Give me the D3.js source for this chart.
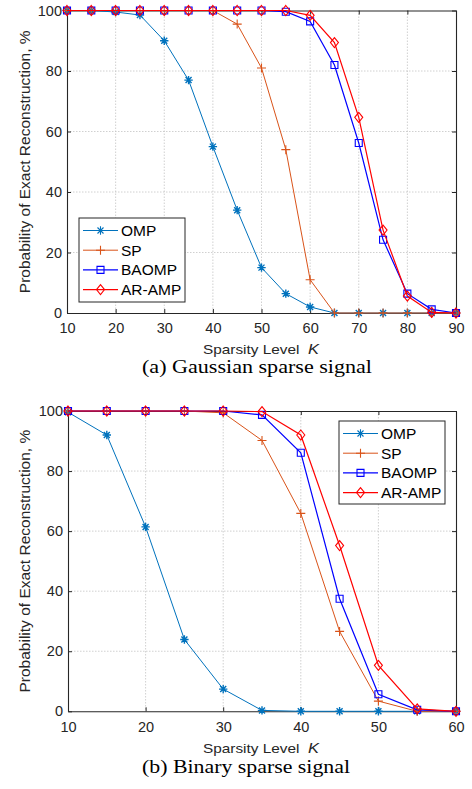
<!DOCTYPE html>
<html>
<head>
<meta charset="utf-8">
<script src="https://cdn.jsdelivr.net/npm/d3@7"></script>
<style>
  body { margin: 0; background: #fff; }
  svg { display: block; }
</style>
</head>
<body>
<div id="chart"></div>
<script>
// sparsity levels
const kGauss = [10, 15, 20, 25, 30, 35, 40, 45, 50, 55, 60, 65, 70, 75, 80, 85, 90];
const kBinary = [10, 15, 20, 25, 30, 35, 40, 45, 50, 55, 60];

// (a) Gaussian sparse signal
const ompGauss = [100, 100, 99.5, 98.5, 90, 77, 55, 34, 15, 6.4, 2, 0, 0, 0, 0, 0, 0];
const spGauss = [100, 100, 100, 100, 100, 100, 100, 95.5, 81, 54, 11, 0, 0, 0, 0, 0, 0];
const baompGauss = [100, 100, 100, 100, 100, 100, 100, 100, 100, 99.6, 96.4, 82, 56.2, 24.2, 6.4, 1.2, 0];
const aramGauss = [100, 100, 100, 100, 100, 100, 100, 100, 100, 100, 98.4, 89.4, 64.7, 27.4, 5.6, 0.2, 0];

// (b) Binary sparse signal
const ompBinary = [99.6, 92, 61.4, 23.9, 7.4, 0.3, 0, 0, 0, 0, 0];
const spBinary = [100, 100, 100, 100, 99.4, 90.2, 65.9, 26.6, 3.4, 0, 0];
const baompBinary = [100, 100, 100, 100, 100, 98.7, 86.1, 37.5, 5.7, 0.5, 0];
const aramBinary = [100, 100, 100, 100, 100, 99.8, 92, 55.2, 15.3, 0.8, 0];

const seriesNames = ["OMP", "SP", "BAOMP", "AR-AMP"];
const yTicks = [0, 20, 40, 60, 80, 100];

const colors = { "OMP": "#0072BD", "SP": "#D95319", "BAOMP": "#0000FF", "AR-AMP": "#FF0000" };
const widths = { "OMP": 1, "SP": 1, "BAOMP": 1.2, "AR-AMP": 1.2 };

const width = 472, height = 789;
const svg = d3.select("#chart").append("svg")
  .attr("width", width)
  .attr("height", height)
  .attr("font-family", "Arial, 'Liberation Sans', sans-serif");

// marker shapes, MATLAB style
function markerPath(name) {
  if (name === "OMP") {
    const r = 4.2, a = 3;
    return `M${-r},0L${r},0M0,${-r}L0,${r}M${-a},${-a}L${a},${a}M${-a},${a}L${a},${-a}`;
  }
  if (name === "SP") {
    const r = 4.5;
    return `M${-r},0L${r},0M0,${-r}L0,${r}`;
  }
  if (name === "BAOMP") {
    const s = 3.5;
    return `M${-s},${-s}L${s},${-s}L${s},${s}L${-s},${s}Z`;
  }
  const w = 4, h = 5;
  return `M0,${-h}L${w},0L0,${h}L${-w},0Z`;
}

function drawPanel(opt) {
  const { left, right, top, bottom, xs, xTicks, series, legend, caption, captionLen, xLabelY, captionY } = opt;
  const x = d3.scaleLinear().domain([xTicks[0], xTicks[xTicks.length - 1]]).range([left, right]);
  const y = d3.scaleLinear().domain([0, 100]).range([bottom, top]);
  const g = svg.append("g");

  // grid
  g.append("g").selectAll("line.gx")
    .data(xTicks.slice(1, -1))
    .join("line")
    .attr("x1", (d) => x(d)).attr("x2", (d) => x(d))
    .attr("y1", top).attr("y2", bottom)
    .attr("stroke", "#c4c4c4").attr("stroke-width", 0.8)
    .attr("stroke-dasharray", "1.5,1.5");
  g.append("g").selectAll("line.gy")
    .data(yTicks.slice(1, -1))
    .join("line")
    .attr("y1", (d) => y(d)).attr("y2", (d) => y(d))
    .attr("x1", left).attr("x2", right)
    .attr("stroke", "#c4c4c4").attr("stroke-width", 0.8)
    .attr("stroke-dasharray", "1.5,1.5");

  // axes (box on, ticks inward)
  const tickLen = 4;
  const xAxis = d3.axisBottom(x).tickValues(xTicks).tickSizeInner(-tickLen).tickSizeOuter(0).tickPadding(10);
  const yAxis = d3.axisLeft(y).tickValues(yTicks).tickSizeInner(-tickLen).tickSizeOuter(0).tickPadding(5);
  const xTop = d3.axisTop(x).tickValues(xTicks).tickSizeInner(-tickLen).tickSizeOuter(0).tickFormat("");
  const yRight = d3.axisRight(y).tickValues(yTicks).tickSizeInner(-tickLen).tickSizeOuter(0).tickFormat("");

  const styleAxis = (a) => {
    a.select(".domain").attr("stroke", "#262626").attr("stroke-width", 1.1);
    a.selectAll(".tick line").attr("stroke", "#262626");
    a.selectAll(".tick text").attr("fill", "#262626").attr("font-size", 14.5);
    a.attr("font-family", null);
  };
  g.append("g").attr("transform", `translate(0,${bottom})`).call(xAxis).call(styleAxis);
  g.append("g").attr("transform", `translate(${left},0)`).call(yAxis).call(styleAxis);
  g.append("g").attr("transform", `translate(0,${top})`).call(xTop).call(styleAxis);
  g.append("g").attr("transform", `translate(${right},0)`).call(yRight).call(styleAxis);

  // lines + markers
  series.forEach((s) => {
    const pts = xs.map((k, i) => [k, s.values[i]]);
    const line = d3.line().x((d) => x(d[0])).y((d) => y(d[1]));
    g.append("path")
      .datum(pts)
      .attr("d", line)
      .attr("fill", "none")
      .attr("stroke", colors[s.name])
      .attr("stroke-width", widths[s.name]);
    g.append("g").selectAll("path")
      .data(pts)
      .join("path")
      .attr("transform", (d) => `translate(${x(d[0])},${y(d[1])})`)
      .attr("d", markerPath(s.name))
      .attr("fill", "none")
      .attr("stroke", colors[s.name])
      .attr("stroke-width", s.name === "OMP" ? 1.4 : 1.1);
  });

  // legend
  const lg = g.append("g");
  lg.append("rect")
    .attr("x", legend.x).attr("y", legend.y)
    .attr("width", legend.w).attr("height", legend.h)
    .attr("fill", "#fff").attr("stroke", "#262626").attr("stroke-width", 1);
  series.forEach((s, i) => {
    const ly = legend.y + 12.5 + i * 19.7;
    const lx0 = legend.x + 4, lx1 = legend.x + 39;
    lg.append("line")
      .attr("x1", lx0).attr("x2", lx1).attr("y1", ly).attr("y2", ly)
      .attr("stroke", colors[s.name]).attr("stroke-width", widths[s.name]);
    lg.append("path")
      .attr("transform", `translate(${(lx0 + lx1) / 2},${ly})`)
      .attr("d", markerPath(s.name))
      .attr("fill", "none").attr("stroke", colors[s.name]).attr("stroke-width", 1.1);
    lg.append("text")
      .attr("x", lx1 + 3).attr("y", ly)
      .attr("dy", "0.36em")
      .attr("font-size", 15.5)
      .attr("fill", "#000")
      .text(s.name);
  });

  // y label
  g.append("text")
    .attr("transform", `translate(24,${(top + bottom) / 2}) rotate(-90)`)
    .attr("text-anchor", "middle")
    .attr("dy", "0.36em")
    .attr("font-size", 15.5)
    .attr("fill", "#262626")
    .text("Probability of Exact Reconstruction, %");

  // x label
  const xl = g.append("text")
    .attr("x", 203).attr("y", xLabelY)
    .attr("font-size", 13.5)
    .attr("fill", "#262626")
    .attr("textLength", 116)
    .attr("lengthAdjust", "spacingAndGlyphs")
    .attr("xml:space", "preserve");
  xl.append("tspan").text("Sparsity Level  ");
  xl.append("tspan").attr("font-style", "italic").attr("font-size", 14.5).text("K");

  // caption
  g.append("text")
    .attr("x", opt.captionX).attr("y", captionY)
    .attr("font-family", "'Times New Roman', 'Liberation Serif', serif")
    .attr("font-size", 18.5)
    .attr("textLength", captionLen)
    .attr("lengthAdjust", "spacingAndGlyphs")
    .attr("fill", "#000")
    .text(caption);
}

drawPanel({
  left: 67, right: 456, top: 10.5, bottom: 313,
  xs: kGauss,
  xTicks: [10, 20, 30, 40, 50, 60, 70, 80, 90],
  series: [
    { name: "OMP", values: ompGauss },
    { name: "SP", values: spGauss },
    { name: "BAOMP", values: baompGauss },
    { name: "AR-AMP", values: aramGauss }
  ],
  legend: { x: 79, y: 218, w: 106, h: 84 },
  caption: "(a) Gaussian sparse signal",
  captionX: 142, captionLen: 230,
  xLabelY: 354, captionY: 373
});

drawPanel({
  left: 68, right: 456, top: 411, bottom: 711.3,
  xs: kBinary,
  xTicks: [10, 20, 30, 40, 50, 60],
  series: [
    { name: "OMP", values: ompBinary },
    { name: "SP", values: spBinary },
    { name: "BAOMP", values: baompBinary },
    { name: "AR-AMP", values: aramBinary }
  ],
  legend: { x: 339, y: 421, w: 106, h: 83 },
  caption: "(b) Binary sparse signal",
  captionX: 142, captionLen: 208,
  xLabelY: 753, captionY: 773
});
</script>
</body>
</html>
